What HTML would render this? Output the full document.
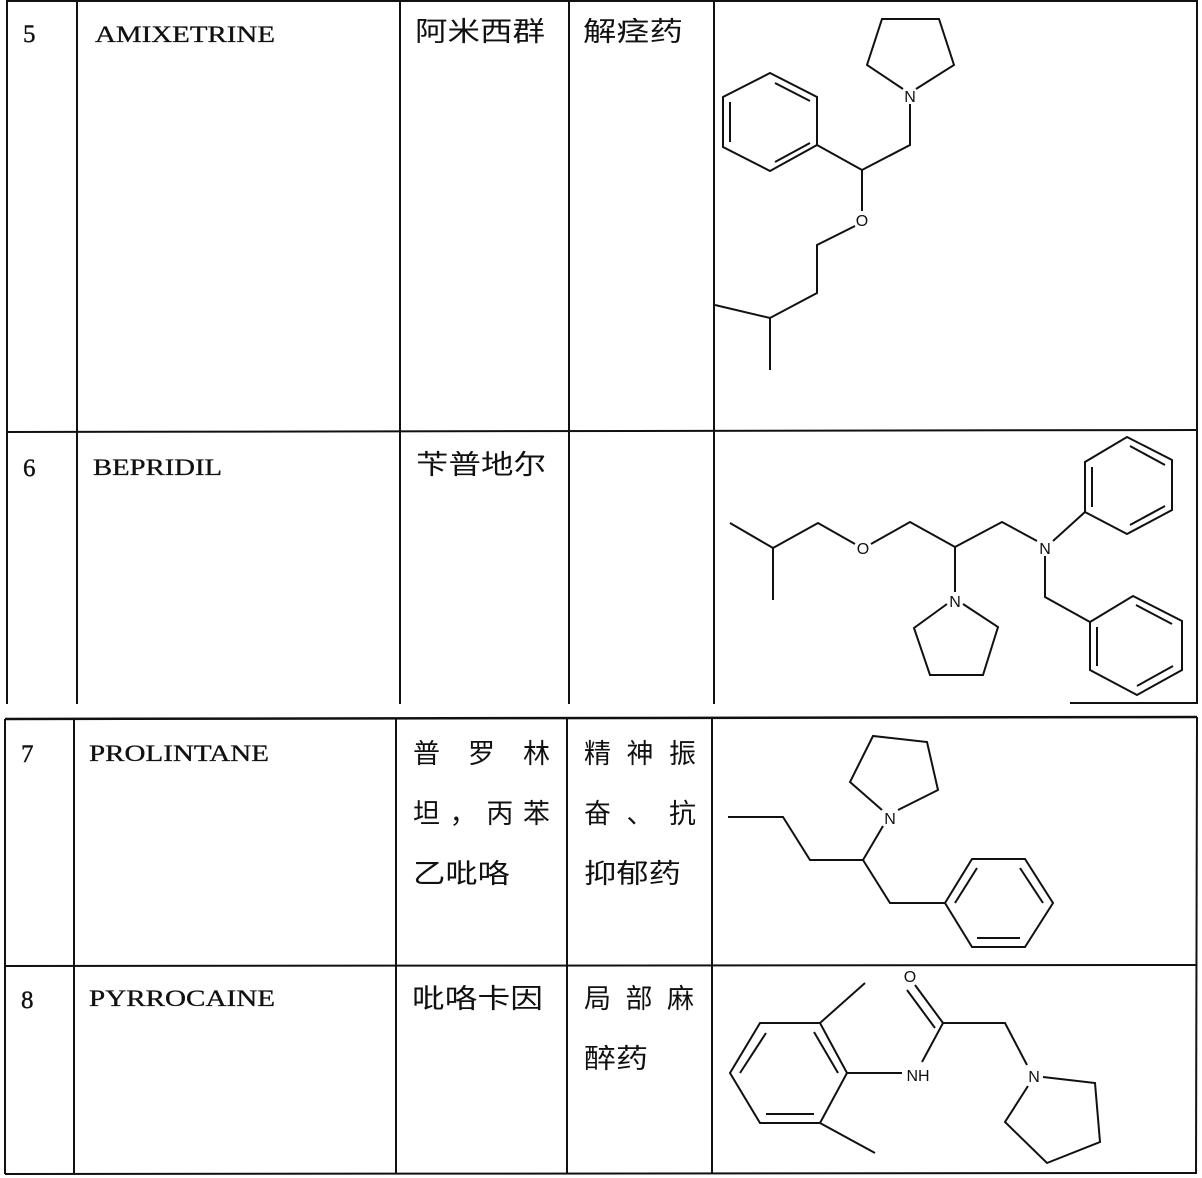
<!DOCTYPE html>
<html><head><meta charset="utf-8"><style>
html,body{margin:0;padding:0;background:#fff;}
svg{display:block;}
.t{font-family:"Liberation Serif","Noto Serif CJK SC",serif;fill:#111;}
.c{font-family:"Noto Sans CJK SC","WenQuanYi Zen Hei",sans-serif;fill:#111;font-size:27px;}
.a{font-family:"Liberation Sans",sans-serif;fill:#111;font-size:16px;}
</style></head><body>
<svg width="1202" height="1178" viewBox="0 0 1202 1178" xmlns="http://www.w3.org/2000/svg">
<g stroke="#111" stroke-width="2" fill="none">
<line x1="7" y1="1" x2="1197" y2="1"/>
<line x1="7" y1="432" x2="1197" y2="430"/>
<line x1="7" y1="0" x2="7" y2="704"/>
<line x1="77" y1="0" x2="77" y2="704"/>
<line x1="400" y1="0" x2="400" y2="704"/>
<line x1="569" y1="0" x2="569" y2="704"/>
<line x1="714" y1="0" x2="714" y2="704"/>
<line x1="1197" y1="0" x2="1197" y2="704"/>
<line x1="1070" y1="703" x2="1197" y2="703"/>
<line x1="5" y1="719" x2="1197" y2="717" stroke-width="2.5"/>
<line x1="5" y1="966" x2="1197" y2="965"/>
<line x1="5" y1="1174" x2="1196" y2="1173"/>
<line x1="5" y1="719" x2="5" y2="1174"/>
<line x1="74" y1="719" x2="74" y2="1174"/>
<line x1="396" y1="719" x2="396" y2="1174"/>
<line x1="567" y1="719" x2="567" y2="1174"/>
<line x1="712" y1="719" x2="712" y2="1174"/>
<line x1="1197" y1="717" x2="1196" y2="1174"/>
</g>
<g class="t" font-size="25" stroke="#111" stroke-width="0.4">
<text x="23" y="42">5</text><text x="23" y="476">6</text>
<text x="21" y="762">7</text><text x="21" y="1008">8</text>
</g>
<g class="t" font-size="23" stroke="#111" stroke-width="0.3">
<text x="95" y="42" textLength="180" lengthAdjust="spacingAndGlyphs">AMIXETRINE</text>
<text x="93" y="475" textLength="129" lengthAdjust="spacingAndGlyphs">BEPRIDIL</text>
<text x="89" y="761" textLength="180" lengthAdjust="spacingAndGlyphs">PROLINTANE</text>
<text x="89" y="1006" textLength="186" lengthAdjust="spacingAndGlyphs">PYRROCAINE</text>
</g>
<g class="c">
<text x="415" y="41" textLength="130" lengthAdjust="spacingAndGlyphs">阿米西群</text>
<text x="583" y="41" textLength="100" lengthAdjust="spacingAndGlyphs">解痉药</text>
<text x="416" y="474" textLength="130" lengthAdjust="spacingAndGlyphs">苄普地尔</text>
<text x="413" y="763" textLength="137" lengthAdjust="spacing">普罗林</text>
<text x="413" y="823" textLength="137" lengthAdjust="spacing">坦，丙苯</text>
<text x="413" y="883" textLength="97" lengthAdjust="spacingAndGlyphs">乙吡咯</text>
<text x="584" y="763" textLength="112" lengthAdjust="spacing">精神振</text>
<text x="584" y="823" textLength="112" lengthAdjust="spacing">奋、抗</text>
<text x="584" y="883" textLength="97" lengthAdjust="spacingAndGlyphs">抑郁药</text>
<text x="412" y="1008" textLength="131" lengthAdjust="spacingAndGlyphs">吡咯卡因</text>
<text x="584" y="1008" textLength="110" lengthAdjust="spacing">局部麻</text>
<text x="584" y="1068" textLength="64" lengthAdjust="spacingAndGlyphs">醉药</text>
</g>
<g stroke="#111" stroke-width="2" fill="none" stroke-linejoin="miter">
<polyline points="903,89 867,65 882,19 939,19 954,65 916,89"/>
<polyline points="910,104 910,145 862,170 817,145"/>
<polygon points="817,145 817,97 770,73 723,97 723,147 770,171"/>
<line x1="775" y1="83" x2="810" y2="101"/><line x1="730" y1="102" x2="730" y2="142"/><line x1="775" y1="162" x2="810" y2="143"/>
<polyline points="862,170 862,211"/>
<polyline points="855,226 817,245 817,293 770,318 715,305"/>
<line x1="770" y1="318" x2="770" y2="370"/>
<polyline points="730,523 773,548 773,600"/>
<polyline points="773,548 818,523 855,544"/>
<polyline points="871,544 910,522 955,547 1002,522 1037,541"/>
<line x1="1053" y1="541" x2="1085" y2="512"/>
<polygon points="1085,512 1085,462 1127,437 1172,460 1172,510 1127,534"/>
<line x1="1092" y1="467" x2="1092" y2="507"/><line x1="1130" y1="446" x2="1165" y2="465"/><line x1="1130" y1="525" x2="1165" y2="506"/>
<polyline points="1045,556 1045,597 1090,622"/>
<polygon points="1090,622 1133,596 1182,621 1182,670 1137,695 1090,670"/>
<line x1="1097" y1="627" x2="1097" y2="666"/><line x1="1136" y1="605" x2="1172" y2="624"/><line x1="1137" y1="686" x2="1173" y2="666"/>
<line x1="955" y1="547" x2="955" y2="592"/>
<polyline points="947,604 914,628 930,675 983,675 998,627 963,604"/>
<polyline points="728,817 783,817 810,860 863,860 883,826"/>
<polyline points="882,810 850,782 873,736 927,742 938,790 898,810"/>
<polyline points="863,860 890,903 945,903"/>
<polygon points="945,903 972,859 1025,859 1053,903 1025,947 972,947"/>
<line x1="955" y1="903" x2="977" y2="868"/><line x1="1020" y1="868" x2="1043" y2="903"/><line x1="977" y1="938" x2="1020" y2="938"/>
<line x1="915" y1="985" x2="943" y2="1023"/><line x1="907" y1="990" x2="935" y2="1028"/>
<polyline points="922,1062 943,1023 1005,1023 1027,1065"/>
<line x1="847" y1="1073" x2="902" y2="1073"/>
<polygon points="847,1073 820,1023 760,1023 730,1073 760,1123 820,1123"/>
<line x1="814" y1="1032" x2="838" y2="1073"/><line x1="766" y1="1033" x2="740" y2="1073"/><line x1="766" y1="1114" x2="814" y2="1114"/>
<line x1="820" y1="1023" x2="865" y2="983"/><line x1="820" y1="1123" x2="875" y2="1153"/>
<polyline points="1043,1077 1095,1083 1100,1142 1047,1163 1005,1122 1028,1086"/>
</g>
<g class="a" text-anchor="middle">
<text x="910" y="102">N</text>
<text x="862" y="226">O</text>
<text x="863" y="554">O</text>
<text x="1045" y="554">N</text>
<text x="955" y="607">N</text>
<text x="890" y="824">N</text>
<text x="910" y="982">O</text>
<text x="918" y="1081">NH</text>
<text x="1034" y="1082">N</text>
</g>
</svg>
</body></html>
